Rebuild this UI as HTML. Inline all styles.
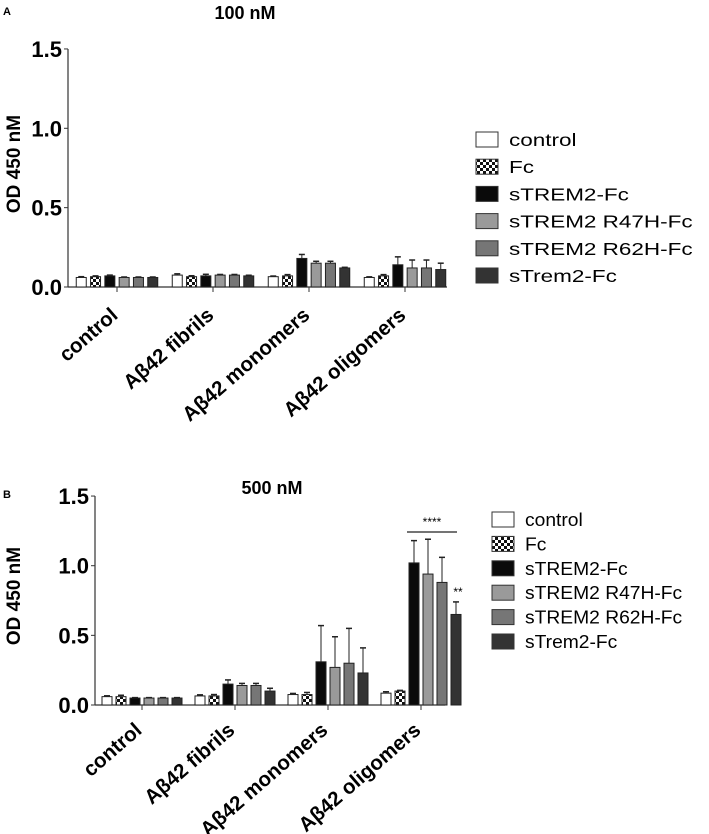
<!DOCTYPE html>
<html><head><meta charset="utf-8"><style>
body{margin:0;background:#fff;}
svg{display:block;font-family:"Liberation Sans",Arial,sans-serif;}
</style></head><body>
<svg id="fig" width="709" height="834" viewBox="0 0 709 834">
<defs>
<pattern id="chk" width="6" height="6" patternUnits="userSpaceOnUse"><rect width="6" height="6" fill="#fff"/><rect width="3" height="3" fill="#111"/><rect x="3" y="3" width="3" height="3" fill="#111"/></pattern>
</defs>
<text x="3" y="15" font-size="11" font-weight="bold">A</text>
<text x="245" y="19" font-size="18" font-weight="bold" text-anchor="middle">100 nM</text>
<text x="3" y="498" font-size="11" font-weight="bold">B</text>
<text x="272" y="494" font-size="18" font-weight="bold" text-anchor="middle">500 nM</text>
</svg>
<script>
const categories=["control","Aβ42 fibrils","Aβ42 monomers","Aβ42 oligomers"];
const seriesNames=["control","Fc","sTREM2-Fc","sTREM2 R47H-Fc","sTREM2 R62H-Fc","sTrem2-Fc"];
const yTicks=[0,0.5,1.0,1.5];
const yTickLabels=["0.0","0.5","1.0","1.5"];
const valuesA=[[0.06,0.065,0.07,0.06,0.06,0.06],[0.075,0.065,0.07,0.075,0.075,0.07],[0.065,0.07,0.18,0.15,0.15,0.12],[0.06,0.07,0.14,0.12,0.12,0.11]];
const errorsA=[[0.005,0.005,0.005,0.003,0.003,0.003],[0.008,0.006,0.01,0.004,0.004,0.004],[0.004,0.008,0.025,0.012,0.012,0.004],[0.004,0.008,0.05,0.05,0.05,0.04]];
const valuesB=[[0.06,0.06,0.05,0.05,0.05,0.05],[0.065,0.065,0.15,0.14,0.14,0.10],[0.075,0.075,0.31,0.27,0.30,0.23],[0.085,0.10,1.02,0.94,0.88,0.65]];
const errorsB=[[0.006,0.01,0.003,0.003,0.003,0.003],[0.008,0.01,0.03,0.015,0.015,0.02],[0.008,0.015,0.26,0.22,0.25,0.18],[0.01,0.005,0.16,0.25,0.18,0.09]];
const fills=["#fff","url(#chk)","#0a0a0a","#9a9a9a","#767676","#333"];
const svg=document.getElementById('fig');
const NS="http://www.w3.org/2000/svg";
function mk(t,a){const e=document.createElementNS(NS,t);for(const k in a)e.setAttribute(k,a[k]);svg.appendChild(e);return e;}
function panel(p,vals,errs,id){
  const y=v=>p.y0-v*p.k;
  const x=(g,s)=>p.x0c+g*p.gs+(s-2.5)*p.bs;
  let ax=mk('line',{x1:p.ax,y1:y(1.5),x2:p.ax,y2:p.y0,stroke:'#333','stroke-width':1.2});
  
  
  let bx=mk('line',{x1:p.ax,y1:p.y0,x2:p.xend,y2:p.y0,stroke:'#333','stroke-width':1.2});
  
  
  yTicks.forEach((t,i)=>{
    let l=mk('line',{x1:p.ax-4,y1:y(t),x2:p.ax,y2:y(t),stroke:'#333'});
    
    
    let tx=mk('text',{x:p.ax-6,y:y(t)+8,'font-size':22,'font-weight':'bold','text-anchor':'end'});
    tx.textContent=yTickLabels[i];
    
    
  });
  let yt=mk('text',{x:0,y:0,'font-size':19,'font-weight':'bold','text-anchor':'middle',transform:`translate(${p.ytx},${p.yty}) rotate(-90)`});
  yt.textContent="OD 450 nM";
  
  
  categories.forEach((c,g)=>{
    const cx=p.x0c+g*p.gs;
    let l=mk('line',{x1:cx,y1:p.y0,x2:cx,y2:p.y0+5,stroke:'#333'});
    
    
    let tx=mk('text',{x:0,y:0,'font-size':20.5,'font-weight':'bold','text-anchor':'end',transform:`translate(${cx+p.lbx},${p.y0+p.lby}) rotate(-41)`});
    tx.textContent=c;
    
    
    vals[g].forEach((v,s)=>{
      const bxp=x(g,s);
      const e=errs[g][s];
      let el=mk('line',{x1:bxp,y1:y(v+e),x2:bxp,y2:y(v),stroke:'#222','stroke-width':1});
      
      
      let ec=mk('line',{x1:bxp-3,y1:y(v+e),x2:bxp+3,y2:y(v+e),stroke:'#222','stroke-width':1.5});
      
      
      let r=mk('rect',{x:bxp-p.bw/2,y:y(v),width:p.bw,height:v*p.k,fill:fills[s],stroke:'#222','stroke-width':1});
      
      
    });
  });
  seriesNames.forEach((n,i)=>{
    const ly=p.ly+i*p.lgap;
    let r=mk('rect',{x:p.lx,y:ly-7,width:22,height:15,fill:fills[i],stroke:'#333','stroke-width':1});
    
    
    let t=mk('text',{x:0,y:0,'font-size':18,transform:`translate(${p.lx+33},${ly+7}) scale(${p.ls},1)`});
    t.textContent=n;
    
    
  });
  return {y,x};
}
panel({y0:287,k:158.7,ax:68,xend:447,x0c:117,gs:96,bs:14.3,bw:10,ytx:20,yty:164,lx:476,ly:139,lgap:27.2,ls:1.25,lbx:2,lby:30},valuesA,errorsA,'panel-a');
const pb=panel({y0:705,k:139.3,ax:95,xend:445,x0c:142,gs:93,bs:14,bw:10,ytx:20,yty:596,lx:492,ly:519,lgap:24.4,ls:1.07,lbx:1,lby:27},valuesB,errorsB,'panel-b');
let sl=mk('line',{x1:pb.x(3,2)-7,y1:532,x2:pb.x(3,5)+1,y2:532,stroke:'#222','stroke-width':1.3});


let s4=mk('text',{x:(pb.x(3,2)+pb.x(3,5))/2-3,y:526,'font-size':12,'text-anchor':'middle'});
s4.textContent="****";


let s2=mk('text',{x:pb.x(3,5)+2,y:596,'font-size':12,'text-anchor':'middle'});
s2.textContent="**";


</script>
</body></html>
